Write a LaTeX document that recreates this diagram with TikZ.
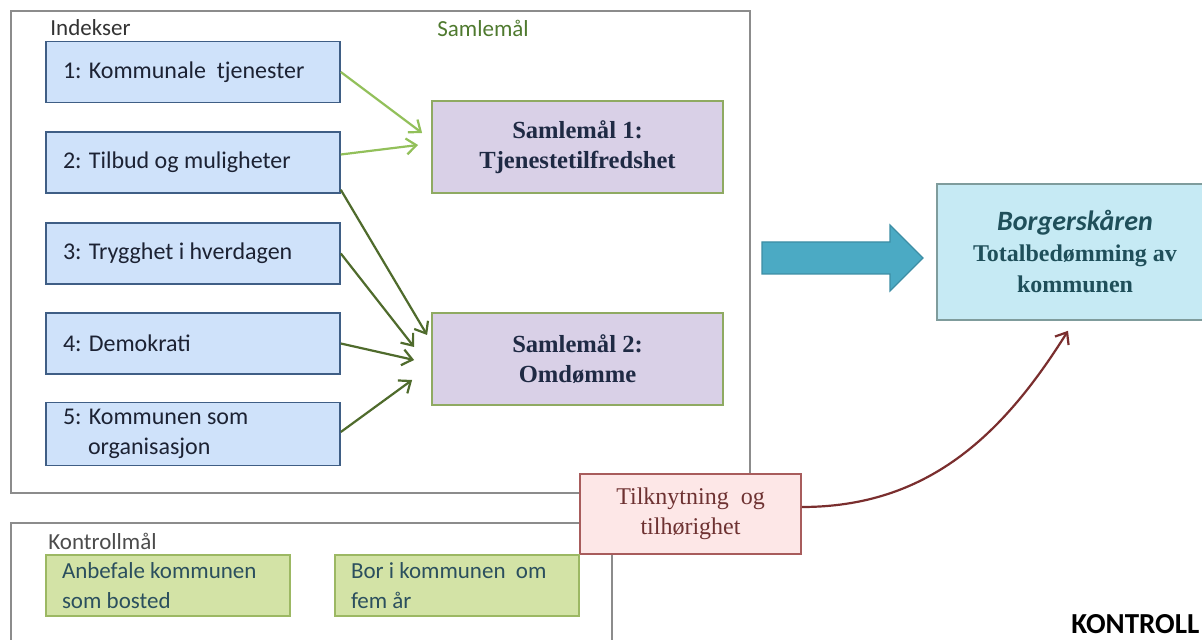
\documentclass[tikz,border=0pt]{standalone}
\usepackage{fontspec}
\setmainfont{Carlito}
\newfontfamily\cambria{Liberation Serif}
\usetikzlibrary{arrows.meta}
\definecolor{framegray}{HTML}{8C8C8C}
\definecolor{indexfill}{HTML}{CFE2FA}
\definecolor{indexline}{HTML}{3F5E85}
\definecolor{indextext}{HTML}{1C2233}
\definecolor{goalfill}{HTML}{D9D0E7}
\definecolor{goalline}{HTML}{8FAA62}
\definecolor{goaltext}{HTML}{1F2A44}
\definecolor{lightgreen}{HTML}{92C05A}
\definecolor{darkgreen}{HTML}{4F6B2C}
\definecolor{labelgreen}{HTML}{4F7A2F}
\definecolor{scorefill}{HTML}{C6EAF4}
\definecolor{scoreline}{HTML}{7F9C9C}
\definecolor{scoretext}{HTML}{1F4F5A}
\definecolor{bigblue}{HTML}{4BAAC4}
\definecolor{bigblueline}{HTML}{3D8EA5}
\definecolor{tiefill}{HTML}{FDE7E7}
\definecolor{tieline}{HTML}{A85C5C}
\definecolor{tietext}{HTML}{6E3232}
\definecolor{tiearrow}{HTML}{7A2E2E}
\definecolor{ctrlfill}{HTML}{D3E3A6}
\definecolor{ctrlline}{HTML}{9CB863}
\definecolor{ctrltext}{HTML}{2B4F5E}
\tikzset{
	framestyle/.style={draw=framegray, line width=1.2pt},
	indexstyle/.style={rectangle, draw=indexline, fill=indexfill, line width=0.8pt, minimum width=147pt, minimum height=30.5pt, text width=130pt, inner xsep=8.5pt, align=flush left, text=indextext, font=\fontsize{12}{15}\selectfont},
	goalstyle/.style={rectangle, draw=goalline, fill=goalfill, line width=0.9pt, minimum width=145.5pt, minimum height=46pt, align=center, text=goaltext, font=\cambria\bfseries\fontsize{12.3}{15}\selectfont},
	scorestyle/.style={rectangle, draw=scoreline, fill=scorefill, line width=0.8pt, minimum width=138pt, minimum height=68pt, align=center, text=scoretext, font=\cambria\bfseries\fontsize{12}{15.5}\selectfont},
	tiestyle/.style={rectangle, draw=tieline, fill=tiefill, line width=0.8pt, minimum width=110.5pt, minimum height=40pt, align=center, text=tietext, font=\cambria\fontsize{12}{15}\selectfont},
	ctrlstyle/.style={rectangle, draw=ctrlline, fill=ctrlfill, line width=0.8pt, minimum width=122pt, minimum height=30.5pt, text width=106pt, inner xsep=8pt, align=flush left, text=ctrltext, font=\fontsize{11.5}{15}\selectfont},
	labelstyle/.style={anchor=west, inner sep=0pt, font=\fontsize{11.5}{13}\selectfont},
	lightarrow/.style={draw=lightgreen, line width=1.1pt, -{Straight Barb[length=5pt,width=8pt]}},
	darkarrow/.style={draw=darkgreen, line width=1.1pt, -{Straight Barb[length=5pt,width=8pt]}},
	tiearrowstyle/.style={draw=tiearrow, line width=1.1pt, -{Straight Barb[length=5pt,width=8pt]}}
}

\begin{document}
\begin{tikzpicture}[x=0.5pt, y=-0.5pt]
	\useasboundingbox (0,0) rectangle (1202,640);
	\clip (0,0) rectangle (1202,640);
	\fill[white] (0,0) rectangle (1202,640);
	\draw[framestyle] (11,11) rectangle (750,493);
	\draw[framestyle] (11,523) rectangle (612,700);
	\node[labelstyle, text=black!80] (indekser) at (50,28) {Indekser};
	\node[labelstyle, text=labelgreen] (samlemaal) at (437,28) {Samlemål};
	\node[labelstyle, text=black!70] (kontrollmaal) at (48,541) {Kontrollmål};
	\node[indexstyle] (i1) at (193,72) {1: Kommunale\ \ tjenester};
	\node[indexstyle] (i2) at (193,162.5) {2: Tilbud og muligheter};
	\node[indexstyle] (i3) at (193,253.5) {3: Trygghet i hverdagen};
	\node[indexstyle] (i4) at (193,343.5) {4: Demokrati};
	\node[indexstyle] (i5) at (193,434) {5: Kommunen som\\\hspace*{12.5pt}organisasjon};
	\node[goalstyle] (s1) at (577.5,147) {Samlemål 1:\\Tjenestetilfredshet};
	\node[goalstyle] (s2) at (577.5,359) {Samlemål 2:\\Omdømme};
	\node[scorestyle] (score) at (1075,252) {{\normalfont\bfseries\itshape\fontsize{14}{15.5}\selectfont Borgerskåren}\\Totalbedømming av\\kommunen};
	\node[tiestyle] (tie) at (690.5,514) {Tilknytning\ \ og\\tilhørighet};
	\node[ctrlstyle] (k1) at (168,585.5) {Anbefale kommunen\\som bosted};
	\node[ctrlstyle] (k2) at (457,585.5) {Bor i kommunen\ \ om\\fem år};
	\node[anchor=base west, inner sep=0pt, font=\bfseries\fontsize{14.5}{17}\selectfont] (kontroll) at (1071,633) {KONTROLL};
	\draw[fill=bigblue, draw=bigblueline, line width=0.6pt] (762,242) -- (890,242) -- (890,225) -- (923,258) -- (890,291) -- (890,274) -- (762,274) -- cycle;
	\draw[lightarrow] (i1.east) -- ([shift={(-9,-14)}]s1.west);
	\draw[lightarrow] ([yshift=4pt]i2.east) -- ([shift={(-13,-2)}]s1.west);
	\draw[darkarrow] ([yshift=2pt]i2.south east) -- ([shift={(-4,-24)}]s2.west);
	\draw[darkarrow] (i3.east) -- ([shift={(-17,-12)}]s2.west);
	\draw[darkarrow] (i4.east) -- ([shift={(-17,1)}]s2.west);
	\draw[darkarrow] ([yshift=1pt]i5.east) -- ([shift={(-19,21)}]s2.west);
	\draw[tiearrowstyle] ([yshift=3.5pt]tie.east) to[out=0, in=-122] ([shift={(-7,10)}]score.south);
\end{tikzpicture}
\end{document}
